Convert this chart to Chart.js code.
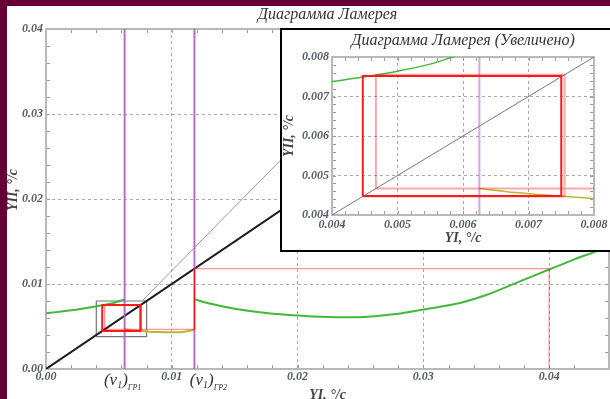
<!DOCTYPE html>
<html>
<head>
<meta charset="utf-8">
<script src="https://cdn.jsdelivr.net/npm/chart.js@4.4.1/dist/chart.umd.min.js"></script>
<style>
  html, body { margin: 0; padding: 0; }
  body { width: 610px; height: 399px; background: #640033; position: relative; overflow: hidden; }
  #sheet { position: absolute; left: 7px; top: 6px; right: 0; bottom: 0; background: #fff; }
  #main { position: absolute; left: 0; top: 0; }
  #inset { position: absolute; left: 280px; top: 28px; width: 345px; height: 224px;
           box-sizing: border-box; border: 2px solid #000; background: #fff; }
  #zoom { position: absolute; left: 0; top: 0; }
</style>
</head>
<body>
<div id="sheet"></div>
<canvas id="main" width="610" height="399"></canvas>
<div id="inset"><canvas id="zoom" width="341" height="220"></canvas></div>
<script>
// ---- values (°/c) ----
var greenLeftX  = [0, 0.001, 0.002, 0.003, 0.004, 0.0045, 0.005, 0.0055, 0.00585, 0.00625];
var greenLeftY  = [0.00655, 0.00672, 0.0069, 0.00712, 0.00738, 0.0075, 0.00764, 0.00782, 0.008, 0.0082];
var greenRightX = [0.0118, 0.013, 0.015, 0.0175, 0.02, 0.023, 0.025, 0.028, 0.03, 0.033, 0.035, 0.037, 0.04, 0.042, 0.0443, 0.046];
var greenRightY = [0.0082, 0.0077, 0.0071, 0.0066, 0.0063, 0.0061, 0.0061, 0.0065, 0.007, 0.0078, 0.0087, 0.0099, 0.0117, 0.0129, 0.0142, 0.0155];
var lowerX = [0.00625, 0.0068, 0.0075, 0.008, 0.009, 0.01, 0.011, 0.0118];
var lowerY = [0.00467, 0.00457, 0.00448, 0.00442, 0.00434, 0.00432, 0.00438, 0.00462];
var diagX = [0, 0.05];
var diagY = [0, 0.05];
// cobweb iterations (light) and the settled 2-cycle (bright)
var cobwebX = [0.04, 0.04, 0.0118, 0.0118, 0.00467, 0.00467, 0.00755, 0.00755, 0.00447];
var cobwebY = [0, 0.0118, 0.0118, 0.00467, 0.00467, 0.00755, 0.00755, 0.00447, 0.00447];
var cycleX = [0.00447, 0.00447, 0.0075, 0.0075, 0.00447];
var cycleY = [0.00448, 0.00752, 0.00752, 0.00448, 0.00448];
// zoom window and the line leading to the inset
var boxX = [0.004, 0.008, 0.008, 0.004, 0.004];
var boxY = [0.0038, 0.0038, 0.008, 0.008, 0.0038];
var connX = [0.0077, 0.0186];
var connY = [0.0081, 0.0245];
// boundary lines (v1)_ГР1, (v1)_ГР2
var grX = [0.00625, 0.0118];
var grLabels = ['ГР1', 'ГР2'];
// tick labels
var mainTicks = [0, 0.01, 0.02, 0.03, 0.04];
var insetTicks = [0.004, 0.005, 0.006, 0.007, 0.008];

var SERIF = "'Liberation Serif', 'DejaVu Serif', serif";
var TICK_COLOR = '#555a66';

function pts(xs, ys) { return xs.map(function (x, i) { return { x: x, y: ys[i] }; }); }
function isMajor(v, list) { return list.some(function (m) { return Math.abs(m - v) < 1e-9; }); }

function line(data, color, width, smooth) {
    var d = { data: data, showLine: true, borderColor: color, borderWidth: width,
              pointRadius: 0, fill: false, tension: 0 };
    if (smooth) d.cubicInterpolationMode = 'monotone';
    return d;
}

function datasets(big) {
    var out = [];
    out.push(line(pts(cycleX, cycleY), '#ff1a1a', 2));
    out.push(line(pts(cobwebX, cobwebY), big ? 'rgba(255,0,0,0.5)' : 'rgba(255,0,0,0.35)', big ? 1 : 2));
    grX.forEach(function (x) {
        out.push(line([{ x: x, y: 0 }, { x: x, y: 0.05 }], big ? 'rgba(178,92,198,0.9)' : 'rgba(178,92,198,0.55)', 2));
    });
    out.push(line(pts(lowerX, lowerY), '#bdb52e', big ? 2 : 1.5, true));
    out.push(line(pts(greenLeftX, greenLeftY), '#3fba3a', big ? 2 : 1.5, true));
    out.push(line(pts(greenRightX, greenRightY), '#3fba3a', 2, true));
    out.push(line(pts(diagX, diagY), big ? '#1c1c1c' : '#777', big ? 2 : 1));
    if (big) {
        out.push(line(pts(connX, connY), '#9a9a9a', 1));
        out.push(line(pts(boxX, boxY), '#777', 1.2));
    }
    return out;
}

function axis(min, max, step, labels, digits, size, horizontal, pad) {
    return {
        type: 'linear', min: min, max: max,
        afterFit: function (s) { if (horizontal) s.height = size; else s.width = size; },
        grid: {
            drawTicks: false,
            color: function (ctx) { return ctx.tick && isMajor(ctx.tick.value, labels) ? '#a9a9a9' : 'rgba(0,0,0,0)'; },
            lineWidth: 1
        },
        border: { display: false, dash: [3, 3] },
        ticks: {
            stepSize: step, maxTicksLimit: 200, autoSkip: false, maxRotation: 0, padding: pad,
            color: TICK_COLOR, font: { family: SERIF, size: 12, style: 'italic', weight: 'bold' },
            callback: function (v) { return isMajor(v, labels) ? v.toFixed(digits) : ''; }
        }
    };
}

// frame, inner tick marks and all text
var decor = {
    id: 'decor',
    beforeDatasetsDraw: function (chart, args, o) {
        var a = chart.chartArea, c = chart.ctx, sx = chart.scales.x, sy = chart.scales.y;
        c.save();
        c.strokeStyle = o.tickColor; c.lineWidth = 1;
        c.beginPath();
        sx.ticks.forEach(function (t) {
            var p = Math.round(sx.getPixelForValue(t.value)) + 0.5;
            c.moveTo(p, a.bottom); c.lineTo(p, a.bottom - o.tickLen);
            c.moveTo(p, a.top); c.lineTo(p, a.top + o.tickLen);
        });
        sy.ticks.forEach(function (t) {
            var p = Math.round(sy.getPixelForValue(t.value)) + 0.5;
            c.moveTo(a.left, p); c.lineTo(a.left + o.tickLen, p);
            c.moveTo(a.right, p); c.lineTo(a.right - o.tickLen, p);
        });
        c.stroke();
        c.strokeStyle = o.frameColor; c.lineWidth = 2;
        c.strokeRect(a.left, a.top, a.right - a.left, a.bottom - a.top);
        c.restore();
    },
    afterDraw: function (chart, args, o) {
        var a = chart.chartArea, c = chart.ctx;
        var cx = (a.left + a.right) / 2, cy = (a.top + a.bottom) / 2;
        c.save();
        c.textAlign = 'center'; c.textBaseline = 'middle';
        c.fillStyle = '#333';
        c.font = 'italic ' + o.titleSize + 'px ' + SERIF;
        c.fillText(o.title, cx + o.titleDx, o.titleY);
        c.fillStyle = '#444';
        c.font = 'italic bold 14px ' + SERIF;
        c.fillText('YI, °/c', cx, o.xTitleY);
        c.translate(o.yTitleX, cy + o.yTitleDy);
        c.rotate(-Math.PI / 2);
        c.fillText('YII, °/c', 0, 0);
        c.restore();
        if (o.grMarks) {
            var sx = chart.scales.x;
            grX.forEach(function (x, i) {
                var parts = [['(v', 'italic 17px ', 0], ['1', 'italic 10px ', 3], [')', 'italic 17px ', 0], [grLabels[i], 'italic 8px ', 5]];
                c.save();
                c.fillStyle = '#333'; c.textBaseline = 'alphabetic'; c.textAlign = 'left';
                var w = 0;
                parts.forEach(function (p) { c.font = p[1] + SERIF; w += c.measureText(p[0]).width; });
                var px = sx.getPixelForValue(x) - w / 2 + o.grShift[i];
                parts.forEach(function (p) {
                    c.font = p[1] + SERIF;
                    c.fillText(p[0], px, o.grY + p[2]);
                    px += c.measureText(p[0]).width;
                });
                c.restore();
            });
        }
    }
};

Chart.register(decor);

new Chart(document.getElementById('main'), {
    type: 'scatter',
    data: { datasets: datasets(true) },
    options: {
        responsive: false, animation: false, devicePixelRatio: 1,
        layout: { padding: { left: 0, right: 0, top: 29, bottom: 0 } },
        plugins: {
            legend: { display: false }, tooltip: { enabled: false },
            decor: { title: 'Диаграмма Ламерея', titleSize: 16, titleDx: 0, titleY: 15,
                     xTitleY: 395, yTitleX: 13, yTitleDy: -9, grY: 385, grMarks: true, grShift: [-2, 14],
                     frameColor: '#b8b8b8', tickColor: '#9a9a9a', tickLen: 4 }
        },
        scales: {
            x: axis(0, 0.04476, 0.002, mainTicks, 2, 30, true, 1),
            y: axis(0, 0.04, 0.002, mainTicks, 2, 46, false, 3)
        }
    }
});

new Chart(document.getElementById('zoom'), {
    type: 'scatter',
    data: { datasets: datasets(false) },
    options: {
        responsive: false, animation: false, devicePixelRatio: 1,
        layout: { padding: { left: 0, right: 29, top: 27, bottom: 0 } },
        plugins: {
            legend: { display: false }, tooltip: { enabled: false },
            decor: { title: 'Диаграмма Ламерея (Увеличено)', titleSize: 16, titleDx: 0, titleY: 11,
                     xTitleY: 208, yTitleX: 7, yTitleDy: 0, grMarks: false,
                     frameColor: '#b8b8b8', tickColor: '#9a9a9a', tickLen: 4 }
        },
        scales: {
            x: axis(0.004, 0.008, 0.0002, insetTicks, 3, 35, true, 3),
            y: axis(0.004, 0.008, 0.0002, insetTicks, 3, 50, false, 3)
        }
    }
});
</script>
</body>
</html>
